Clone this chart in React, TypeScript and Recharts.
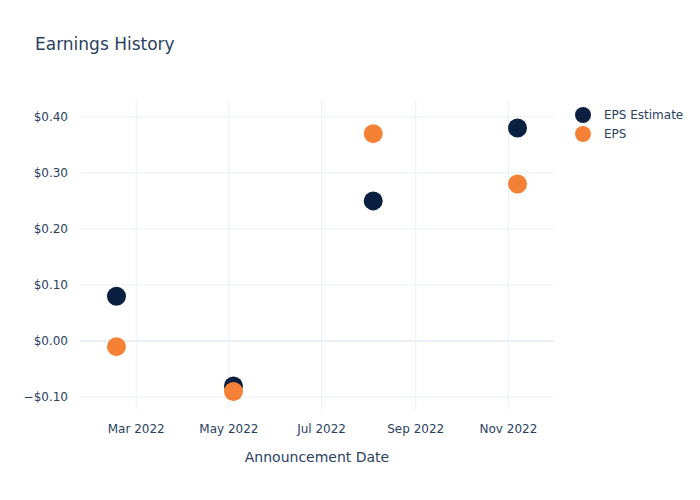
import {
  ScatterChart,
  Scatter,
  XAxis,
  YAxis,
  ReferenceLine,
} from "recharts";

const announceDates = ["2022-02-16", "2022-05-04", "2022-08-04", "2022-11-07"];
const epsEstimate = [0.08, -0.08, 0.25, 0.38];
const epsActual = [-0.01, -0.09, 0.37, 0.28];

const xTickDates = ["2022-03-01", "2022-05-01", "2022-07-01", "2022-09-01", "2022-11-01"];
const xTickLabels = ["Mar 2022", "May 2022", "Jul 2022", "Sep 2022", "Nov 2022"];
const yTicks = [-0.1, 0, 0.1, 0.2, 0.3, 0.4];

const NAVY = "#0b1f40";
const ORANGE = "#f58137";
const TEXT = "#2a3f5f";
const GRID = "#ebf0f8";
const FONT = "'DejaVu Sans', 'Open Sans', sans-serif";

const ts = (d: string) => new Date(d + "T00:00:00Z").getTime();

const estimateData = announceDates.map((d, i) => ({ x: ts(d), y: epsEstimate[i] }));
const epsData = announceDates.map((d, i) => ({ x: ts(d), y: epsActual[i] }));
const xTicks = xTickDates.map(ts);

const xDomain = [ts("2022-01-23"), ts("2022-12-01")];

const fmtDate = (v: number) => {
  const i = xTicks.indexOf(v);
  return i >= 0 ? xTickLabels[i] : "";
};

const fmtMoney = (v: number) => {
  const s = "$" + Math.abs(v).toFixed(2);
  return v < -0.0001 ? "\u2212" + s : s;
};

const Dot = (color: string) => (props: any) => {
  const { cx, cy } = props;
  if (cx == null || cy == null) return null;
  return <circle cx={cx} cy={cy} r={9.5} fill={color} />;
};

const legendItems = [
  { name: "EPS Estimate", color: NAVY },
  { name: "EPS", color: ORANGE },
];

export default function App() {
  return (
    <div style={{ position: "absolute", left: 0, top: 0, width: 700, height: 500, background: "#fff" }}>
      <div
        style={{
          position: "absolute",
          left: 35,
          top: 34,
          fontFamily: FONT,
          fontSize: 17,
          color: TEXT,
        }}
      >
        Earnings History
      </div>
      <ScatterChart
        width={700}
        height={500}
        margin={{ top: 100, right: 146, left: 10, bottom: 60 }}
        style={{ fontFamily: FONT }}
      >
        <XAxis
          type="number"
          dataKey="x"
          domain={xDomain}
          ticks={xTicks}
          tickFormatter={fmtDate}
          allowDataOverflow
          height={30}
          axisLine={false}
          tickLine={false}
          tickMargin={8}
          tick={{ fontSize: 12, fill: TEXT }}
          label={{ value: "Announcement Date", position: "insideBottom", offset: -22, fontSize: 14, fill: TEXT }}
        />
        <YAxis
          type="number"
          dataKey="y"
          domain={[-0.123, 0.43]}
          ticks={yTicks}
          tickFormatter={fmtMoney}
          allowDataOverflow
          width={70}
          axisLine={false}
          tickLine={false}
          tickMargin={6}
          tick={{ fontSize: 12, fill: TEXT }}
        />
        {yTicks.map((v) => (
          <ReferenceLine key={"y" + v} y={v} stroke={GRID} strokeWidth={v === 0 ? 2 : 1} />
        ))}
        {xTicks.map((v) => (
          <ReferenceLine key={"x" + v} x={v} stroke={GRID} strokeWidth={1} />
        ))}
        <Scatter name="EPS Estimate" data={estimateData} fill={NAVY} shape={Dot(NAVY)} isAnimationActive={false} />
        <Scatter name="EPS" data={epsData} fill={ORANGE} shape={Dot(ORANGE)} isAnimationActive={false} />
      </ScatterChart>
      <div
        style={{
          position: "absolute",
          left: 574,
          top: 105,
          fontFamily: FONT,
          fontSize: 12,
          color: TEXT,
        }}
      >
        {legendItems.map((item) => (
          <div key={item.name} style={{ display: "flex", alignItems: "center", height: 19 }}>
            <svg width={18} height={18} style={{ marginRight: 12 }}>
              <circle cx={9} cy={9} r={8} fill={item.color} />
            </svg>
            <span>{item.name}</span>
          </div>
        ))}
      </div>
    </div>
  );
}
